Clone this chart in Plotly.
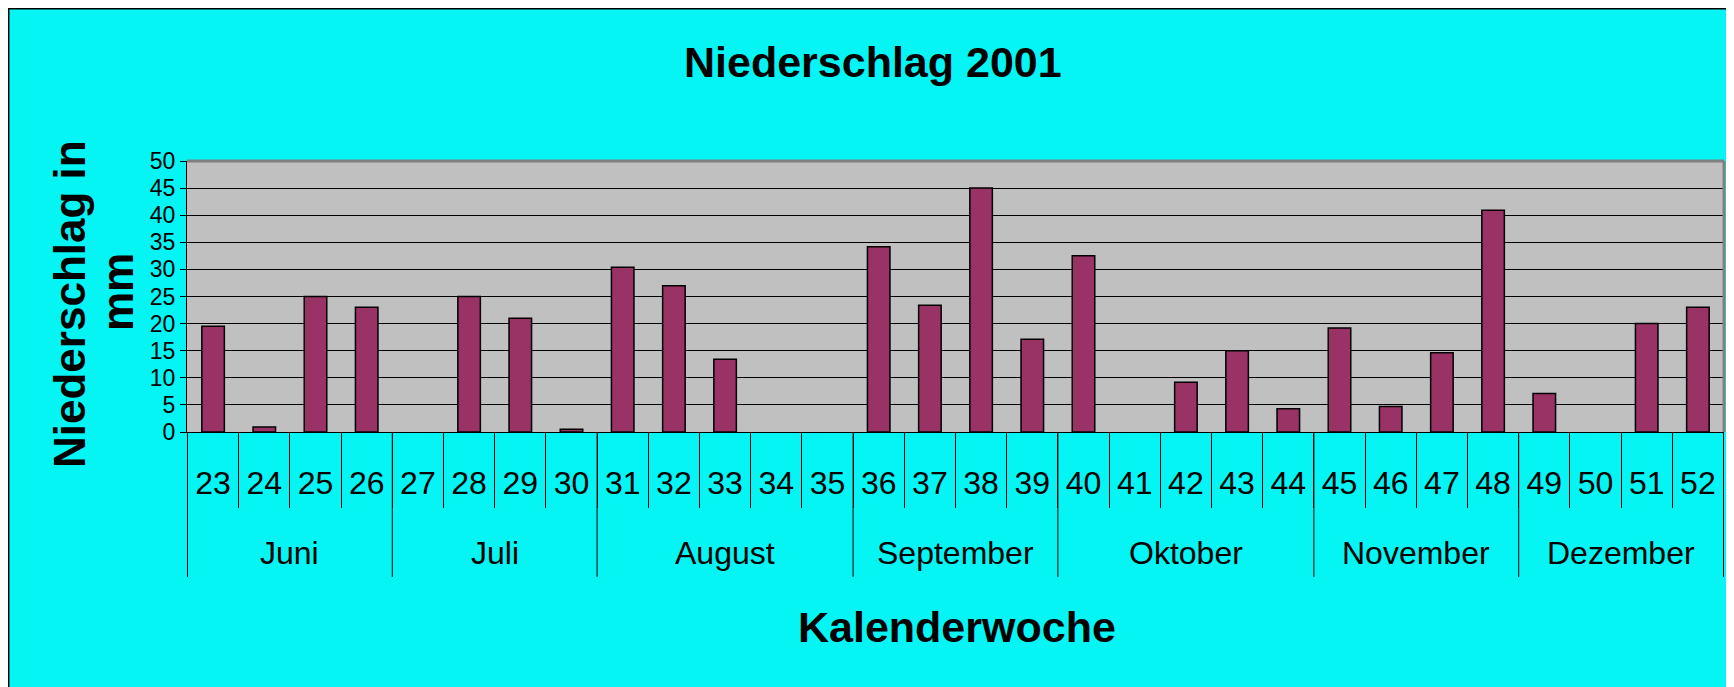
import plotly.graph_objects as go

# ---- data ----
weeks = ["23", "24", "25", "26", "27", "28", "29", "30", "31", "32",
         "33", "34", "35", "36", "37", "38", "39", "40", "41", "42",
         "43", "44", "45", "46", "47", "48", "49", "50", "51", "52"]
# None = no precipitation recorded (no bar drawn)
precip_mm = [19.5, 0.9, 25.0, 23.0, None, 25.0, 21.0, 0.5, 30.4, 27.0,
             13.4, None, None, 34.2, 23.4, 45.0, 17.1, 32.5, None, 9.2,
             15.0, 4.3, 19.2, 4.7, 14.6, 40.9, 7.1, None, 20.0, 23.0]
month_names = ["Juni", "Juli", "August", "September", "Oktober", "November", "Dezember"]
weeks_per_month = [4, 4, 5, 4, 5, 4, 4]
y_ticks = [0, 5, 10, 15, 20, 25, 30, 35, 40, 45, 50]

title_text = "Niederschlag 2001"
x_title = "Kalenderwoche"
y_title_lines = ["Niederschlag in", "mm"]

# ---- layout geometry (page offset of 8px from default body margin) ----
OFF = 8
W, H = 1726, 679
L, R, T, B = 179, 10, 153, 255
PW, PH = W - L - R, H - T - B

def px(x):
    """page x pixel -> paper coordinate"""
    return (x - OFF - L) / PW

def py(y):
    """page y pixel -> paper coordinate"""
    return (H - B - (y - OFF)) / PH

FONT = "Liberation Sans, Arial, sans-serif"
CYAN = "#05F4F4"
BAR = "#993366"

fig = go.Figure()
fig.add_trace(go.Bar(
    x=weeks, y=precip_mm,
    marker=dict(color=BAR, line=dict(color="black", width=1.5)),
    hoverinfo="x+y",
))

shapes = []
# black outer frame line (left and top)
shapes.append(dict(type="line", xref="paper", yref="paper", x0=px(8.7), x1=px(8.7), y0=py(8), y1=py(OFF + H),
                   line=dict(color="black", width=1.5), layer="above"))
shapes.append(dict(type="line", xref="paper", yref="paper", x0=px(8), x1=px(OFF + W), y0=py(8.7), y1=py(8.7),
                   line=dict(color="black", width=1.5), layer="above"))
# gray plot border top/right
shapes.append(dict(type="line", xref="paper", yref="paper", x0=0, x1=1, y0=1, y1=1,
                   line=dict(color="#808080", width=3), layer="above"))
shapes.append(dict(type="line", xref="paper", yref="paper", x0=1, x1=1, y0=0, y1=1,
                   line=dict(color="#808080", width=3), layer="above"))

# month dividers and labels
annotations = []
start = 0
bounds = [0]
for name, n in zip(month_names, weeks_per_month):
    annotations.append(dict(x=start + (n - 1) / 2, xref="x", y=py(553), yref="paper",
                            text=name, showarrow=False, yanchor="middle", xanchor="center",
                            font=dict(family=FONT, size=32, color="black")))
    start += n
    bounds.append(start)
for b in bounds:
    shapes.append(dict(type="line", xref="x", yref="paper", x0=b - 0.5, x1=b - 0.5, y0=0, y1=py(577),
                       line=dict(color="black", width=1)))

# titles
annotations.append(dict(x=px(873), y=py(62), xref="paper", yref="paper", text="<b>%s</b>" % title_text,
                        showarrow=False, xanchor="center", yanchor="middle",
                        font=dict(family=FONT, size=43, color="black")))
annotations.append(dict(x=px(957), y=py(627), xref="paper", yref="paper", text="<b>%s</b>" % x_title,
                        showarrow=False, xanchor="center", yanchor="middle",
                        font=dict(family=FONT, size=43, color="black")))
annotations.append(dict(x=px(69), y=py(304), xref="paper", yref="paper", text="<b>%s</b>" % y_title_lines[0],
                        showarrow=False, xanchor="center", yanchor="middle", textangle=-90,
                        font=dict(family=FONT, size=44, color="black")))
annotations.append(dict(x=px(117), y=py(292), xref="paper", yref="paper", text="<b>%s</b>" % y_title_lines[1],
                        showarrow=False, xanchor="center", yanchor="middle", textangle=-90,
                        font=dict(family=FONT, size=44, color="black")))

fig.update_layout(
    width=W, height=H,
    margin=dict(l=L, r=R, t=T, b=B, pad=0, autoexpand=False),
    paper_bgcolor=CYAN,
    plot_bgcolor="#C0C0C0",
    bargap=0.56,
    showlegend=False,
    shapes=shapes,
    annotations=annotations,
    font=dict(family=FONT, color="black"),
)
fig.update_xaxes(
    type="category", categoryorder="array", categoryarray=weeks, automargin=False,
    tickson="boundaries", ticks="outside", ticklen=75, tickwidth=1, tickcolor="black",
    showline=True, linecolor="black", linewidth=1, showgrid=False,
    tickfont=dict(family=FONT, size=32, color="black"),
    ticklabelstandoff=23,
)
fig.update_yaxes(
    range=[0, 50], tickvals=y_ticks, ticks="outside", ticklen=6, tickwidth=1, tickcolor="black",
    showline=True, linecolor="black", linewidth=1, automargin=False,
    showgrid=True, gridcolor="black", gridwidth=1, zeroline=False,
    tickfont=dict(family=FONT, size=23, color="black"),
)

fig.write_html("out.html")
